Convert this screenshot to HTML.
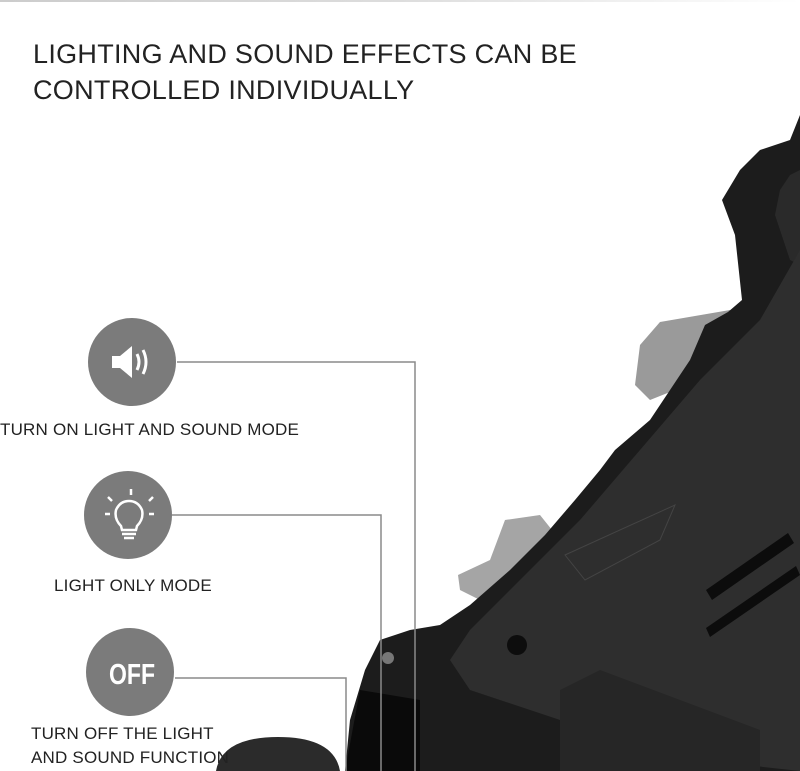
<!DOCTYPE html>
<html><head><style>
html,body{margin:0;padding:0;background:#fff;}
body{width:800px;height:771px;overflow:hidden;position:relative;font-family:"Liberation Sans",sans-serif;}
.t{position:absolute;color:#222;white-space:nowrap;}
svg{display:block;}
</style></head><body>
<svg width="800" height="771" viewBox="0 0 800 771" style="position:absolute;left:0;top:0;overflow:hidden">
  <defs><linearGradient id="g" x1="0" x2="1"><stop offset="0" stop-color="#ccc"/><stop offset="0.5" stop-color="#ddd"/><stop offset="1" stop-color="#fff"/></linearGradient></defs>
  <rect x="0" y="0" width="800" height="2" fill="url(#g)"/>
  <polygon points="640,345 660,322 730,310 738,320 700,380 650,400 635,385" fill="#9a9a9a"/>
  <polygon points="505,520 540,515 560,540 520,585 480,600 460,590 458,575 490,560" fill="#a5a5a5"/>
  <polygon points="800,115 790,140 760,150 740,170 722,200 735,235 742,300 728,312 705,325 690,360 650,420 615,450 600,470 575,500 545,535 510,570 470,605 440,625 410,630 380,640 365,670 350,720 345,771 800,771" fill="#1c1c1c"/>
  <polygon points="800,170 790,175 780,190 775,215 790,260 800,265" fill="#2a2a2a"/>
  <polygon points="800,250 760,320 700,380 640,450 580,520 520,580 470,630 450,660 470,690 560,720 700,760 800,771" fill="#2e2e2e"/>
  <polygon points="565,555 675,505 660,540 585,580" fill="none" stroke="#444" stroke-width="1"/>
  <polygon points="560,690 600,670 760,730 760,771 560,771" fill="#262626"/>
  <polygon points="706,590 788,533 794,543 712,600" fill="#0c0c0c"/>
  <polygon points="706,628 796,566 800,575 710,637" fill="#0c0c0c"/>
  <circle cx="517" cy="645" r="10" fill="#0d0d0d"/>
  <circle cx="388" cy="658" r="6" fill="#777"/>
  <polygon points="360,690 420,700 420,771 345,771" fill="#0a0a0a"/>
  <path d="M216,771 Q222,737 278,737 Q334,737 340,771 Z" fill="#2b2b2b"/>
  <polyline points="177,362 415,362 415,771" fill="none" stroke="#8a8a8a" stroke-width="1.5"/>
  <polyline points="172,515 381,515 381,771" fill="none" stroke="#8a8a8a" stroke-width="1.5"/>
  <polyline points="175,678 346,678 346,771" fill="none" stroke="#8a8a8a" stroke-width="1.5"/>
  <circle cx="132" cy="362" r="44" fill="#7b7b7b"/>
  <circle cx="128" cy="515" r="44" fill="#7b7b7b"/>
  <circle cx="130" cy="672" r="44" fill="#7b7b7b"/>
  <polygon points="112,356 120,356 132,346 132,378 120,368 112,368" fill="#fff"/>
  <path d="M137,354 Q141,362 137,370" stroke="#fff" stroke-width="3" fill="none"/>
  <path d="M143,350 Q149,362 143,374" stroke="#fff" stroke-width="3" fill="none"/>
  <g stroke="#fff" stroke-width="2.5" fill="none">
    <path d="M121,526 Q114,519 116,510 Q120,501 129,501 Q138,501 142,510 Q144,519 137,526 L136,530 L122,530 Z"/>
    <line x1="122" y1="534" x2="136" y2="534"/>
    <line x1="124" y1="538" x2="134" y2="538"/>
    <line x1="131" y1="489" x2="131" y2="495"/>
    <line x1="108" y1="497" x2="112" y2="501"/>
    <line x1="153" y1="497" x2="149" y2="501"/>
    <line x1="105" y1="514" x2="110" y2="514"/>
    <line x1="149" y1="514" x2="154" y2="514"/>
  </g>
  <text x="132" y="684" text-anchor="middle" font-family="Liberation Sans" font-weight="bold" font-size="29" fill="#fff" textLength="46" lengthAdjust="spacingAndGlyphs">OFF</text>
</svg>
<div class="t" style="left:33px;top:36px;font-size:27px;line-height:36px;letter-spacing:0.3px">LIGHTING AND SOUND EFFECTS CAN BE<br>CONTROLLED INDIVIDUALLY</div>
<div class="t" style="left:0px;top:420px;font-size:17px;letter-spacing:0.2px">TURN ON LIGHT AND SOUND MODE</div>
<div class="t" style="left:54px;top:576px;font-size:17px;letter-spacing:0.2px">LIGHT ONLY MODE</div>
<div class="t" style="left:31px;top:722px;font-size:17px;line-height:24px;height:48px;letter-spacing:0.2px">TURN OFF THE LIGHT<br>AND SOUND FUNCTION</div>
</body></html>
